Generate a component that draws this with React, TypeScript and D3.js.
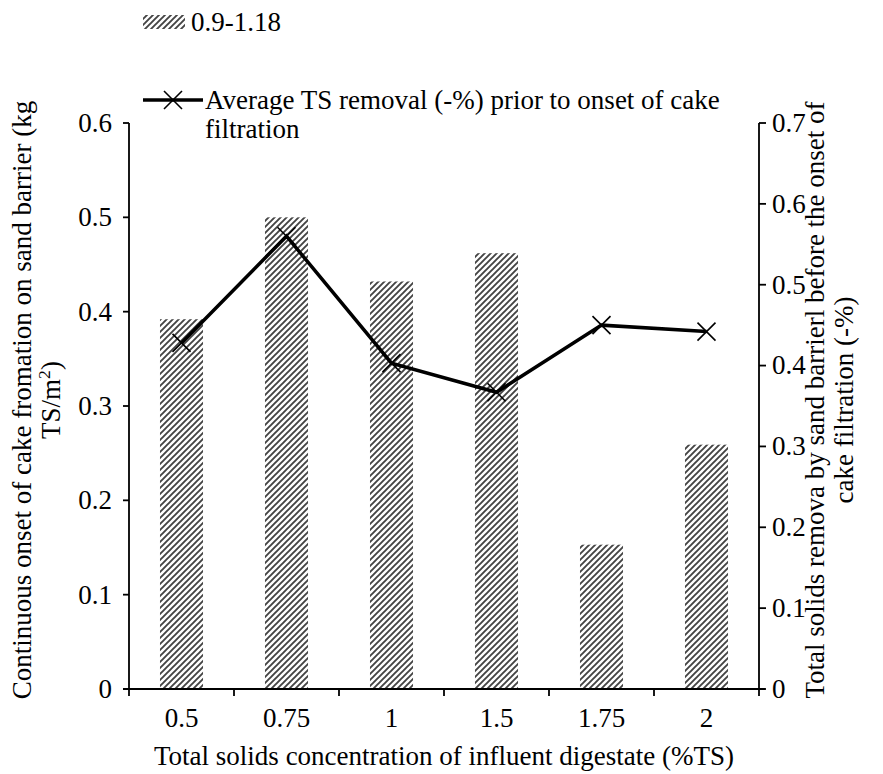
import * as d3 from "d3";

const W = 883;
const H = 774;
const MARGIN = { top: 123, right: 124, bottom: 85, left: 129 };
const FS = 27;
const TXT = { fontFamily: "Liberation Serif", fontSize: FS, fill: "#000" };

const categories = ["0.5", "0.75", "1", "1.5", "1.75", "2"];
const barValues = [0.392, 0.5, 0.432, 0.462, 0.153, 0.259];
const lineValues = [0.428, 0.56, 0.403, 0.367, 0.45, 0.442];
const leftTicks = [0, 0.1, 0.2, 0.3, 0.4, 0.5, 0.6];
const rightTicks = [0, 0.1, 0.2, 0.3, 0.4, 0.5, 0.6, 0.7];

const barLegend = "0.9-1.18";
const lineLegend = ["Average TS removal (-%) prior to onset of cake", "filtration"];
const xTitle = "Total solids concentration of influent digestate (%TS)";
const rightTitle = ["Total solids remova by sand barrierl before the onset of", "cake filtration (-%)"];

export default function App() {
  const innerW = W - MARGIN.left - MARGIN.right;
  const innerH = H - MARGIN.top - MARGIN.bottom;
  const x0 = MARGIN.left;
  const x1 = MARGIN.left + innerW;
  const y0 = MARGIN.top + innerH;

  const xScale = d3.scaleBand().domain(categories).range([x0, x1]).padding(0);
  const yLeft = d3.scaleLinear().domain([0, 0.6]).range([y0, MARGIN.top]);
  const yRight = d3.scaleLinear().domain([0, 0.7]).range([y0, MARGIN.top]);

  const barW = xScale.bandwidth() * 0.41;
  const cx = (c: string) => (xScale(c) ?? 0) + xScale.bandwidth() / 2;

  const linePath = d3
    .line<number>()
    .x((_, i) => cx(categories[i]))
    .y((d) => yRight(d))(lineValues);

  const cross = (x: number, y: number, k: string | number, s = 9) => (
    <path
      key={k}
      d={`M${x - s},${y - s}L${x + s},${y + s}M${x - s},${y + s}L${x + s},${y - s}`}
      stroke="#000"
      strokeWidth={1.6}
      fill="none"
    />
  );

  const boundaries = [...categories.map((c) => xScale(c) ?? 0), x1];
  const leftCx = 22;
  const rightCx = 815;
  const titleCy = 400;

  return (
    <svg width={W} height={H} style={{ position: "absolute", left: 0, top: 0, background: "#fff" }}>
      <defs>
        <pattern id="hatch" patternUnits="userSpaceOnUse" width={6} height={6}>
          <rect width={6} height={6} fill="#fff" />
          <path d="M-1,1L1,-1M0,6L6,0M5,7L7,5" stroke="#444" strokeWidth={1.9} />
        </pattern>
      </defs>

      {/* bars */}
      {barValues.map((v, i) => (
        <rect
          key={i}
          x={cx(categories[i]) - barW / 2}
          y={yLeft(v)}
          width={barW}
          height={y0 - yLeft(v)}
          fill="url(#hatch)"
        />
      ))}

      {/* axes */}
      <g stroke="#000" strokeWidth={1.8} fill="none">
        <line x1={x0} x2={x0} y1={MARGIN.top} y2={y0} />
        <line x1={x1} x2={x1} y1={MARGIN.top} y2={y0} />
        <line x1={x0 - 6} x2={x1 + 6} y1={y0} y2={y0} />
        {leftTicks.map((t) => (
          <line key={"l" + t} x1={x0 - 6} x2={x0} y1={yLeft(t)} y2={yLeft(t)} />
        ))}
        {rightTicks.map((t) => (
          <line key={"r" + t} x1={x1} x2={x1 + 7} y1={yRight(t)} y2={yRight(t)} />
        ))}
        {boundaries.map((b, i) => (
          <line key={"x" + i} x1={b} x2={b} y1={y0} y2={y0 + 7} />
        ))}
      </g>

      {leftTicks.map((t) => (
        <text key={"lt" + t} x={x0 - 17} y={yLeft(t)} dy="0.33em" textAnchor="end" style={TXT}>
          {d3.format("~g")(t)}
        </text>
      ))}
      {rightTicks.map((t) => (
        <text key={"rt" + t} x={x1 + 13} y={yRight(t)} dy="0.33em" textAnchor="start" style={TXT}>
          {d3.format("~g")(t)}
        </text>
      ))}
      {categories.map((c) => (
        <text key={"xt" + c} x={cx(c)} y={y0 + 38} textAnchor="middle" style={TXT}>
          {c}
        </text>
      ))}

      {/* line series */}
      <path d={linePath ?? ""} fill="none" stroke="#000" strokeWidth={3.5} strokeLinejoin="miter" />
      {lineValues.map((v, i) => cross(cx(categories[i]), yRight(v), i))}

      {/* titles */}
      <text x={(x0 + x1) / 2} y={765} textAnchor="middle" style={TXT}>
        {xTitle}
      </text>
      <text transform={`translate(${leftCx},${titleCy}) rotate(-90)`} textAnchor="middle" dy="0.33em" style={TXT}>
        Continuous onset of cake fromation on sand barrier (kg
      </text>
      <text transform={`translate(${leftCx + 29},${titleCy}) rotate(-90)`} textAnchor="middle" dy="0.33em" style={TXT}>
        TS/m<tspan baselineShift="super" style={{ fontSize: FS * 0.65 }}>2</tspan>)
      </text>
      {rightTitle.map((t, i) => (
        <text
          key={"rtt" + i}
          transform={`translate(${rightCx + i * 29},${titleCy}) rotate(-90)`}
          textAnchor="middle"
          dy="0.33em"
          style={TXT}
        >
          {t}
        </text>
      ))}

      {/* legend */}
      <rect x={143} y={15} width={42} height={14} fill="url(#hatch)" />
      <text x={191} y={31} style={TXT}>
        {barLegend}
      </text>
      <line x1={143} x2={203} y1={100} y2={100} stroke="#000" strokeWidth={3.5} />
      {cross(173, 100, "leg")}
      {lineLegend.map((t, i) => (
        <text key={"ll" + i} x={205} y={109 + i * 29} style={TXT}>
          {t}
        </text>
      ))}
    </svg>
  );
}
